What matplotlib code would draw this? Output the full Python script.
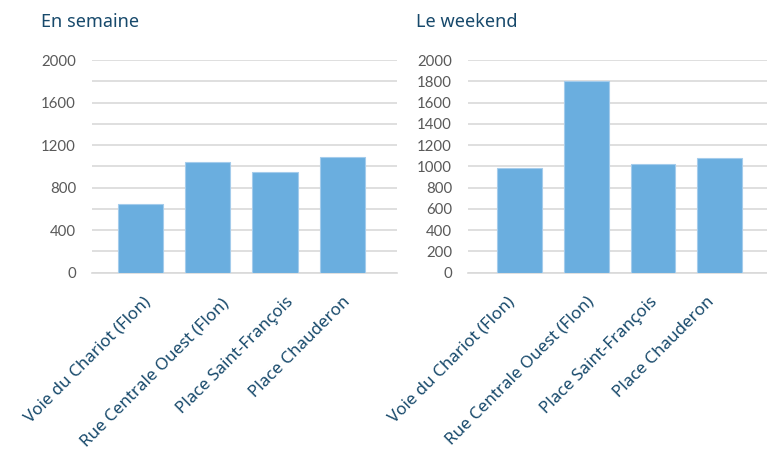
import matplotlib.pyplot as plt
from matplotlib.ticker import MultipleLocator
from matplotlib.transforms import ScaledTranslation

# données
lieux = ['Voie du Chariot (Flon)', 'Rue Centrale Ouest (Flon)',
         'Place Saint-François', 'Place Chauderon']
semaine = [650, 1040, 950, 1090]
weekend = [990, 1800, 1025, 1080]

bleu = '#6AAEDF'
titre_couleur = '#17496B'
gris_txt = '#595959'
gris_grille = '#D9D9D9'

fig = plt.figure(figsize=(7.67, 4.53), dpi=100)
ax1 = fig.add_axes([0.1196, 0.398, 0.3976, 0.469])
ax2 = fig.add_axes([0.6098, 0.398, 0.3902, 0.469])


def dessine(ax, valeurs, pas_label, xlim, decalages):
    x = range(len(lieux))
    ax.bar(x, valeurs, width=0.67, color=bleu, edgecolor='#A4CCEC', linewidth=0.8, zorder=3)
    ax.set_ylim(0, 2000)
    ax.set_xlim(*xlim)
    ax.yaxis.set_major_locator(MultipleLocator(pas_label))
    ax.yaxis.set_minor_locator(MultipleLocator(200))
    ax.grid(axis='y', which='both', color=gris_grille, linewidth=1.2, zorder=0)
    for s in ['top', 'right', 'left']:
        ax.spines[s].set_visible(False)
    ax.spines['bottom'].set_color(gris_grille)
    ax.spines['bottom'].set_linewidth(1.2)
    ax.tick_params(axis='y', which='both', length=0, pad=11.3, labelsize=10.8,
                   labelcolor=gris_txt)
    for lab in ax.get_yticklabels():
        lab.set_fontfamily('Lato')
    ax.set_xticks(list(x))
    ax.set_xticklabels(lieux, rotation=45, ha='right', rotation_mode='anchor',
                       fontsize=12.2, color=titre_couleur, family='Noto Sans')
    ax.tick_params(axis='x', length=0, pad=0)
    # petits décalages (en pixels) pour coller à la position des étiquettes d'Excel
    for lab, (dx, dy) in zip(ax.get_xticklabels(), decalages):
        decal = ScaledTranslation(dx / 100, -0.21 - dy / 100, fig.dpi_scale_trans)
        lab.set_transform(lab.get_transform() + decal)


dessine(ax1, semaine, 400, (-0.725, 3.81), [(2, 0), (13, 2), (10, 0), (0, 0)])
dessine(ax2, weekend, 200, (-0.78, 3.71), [(-13, 0), (0, 0), (-4, 0), (-13, 0)])

# titres
fig.text(41 / 767, 1 - 27 / 453, 'En semaine', fontsize=13, color=titre_couleur,
         family='Noto Sans', va='baseline')
fig.text(416 / 767, 1 - 27 / 453, 'Le weekend', fontsize=13, color=titre_couleur,
         family='Noto Sans', va='baseline')

plt.savefig('out.png', dpi=100)
